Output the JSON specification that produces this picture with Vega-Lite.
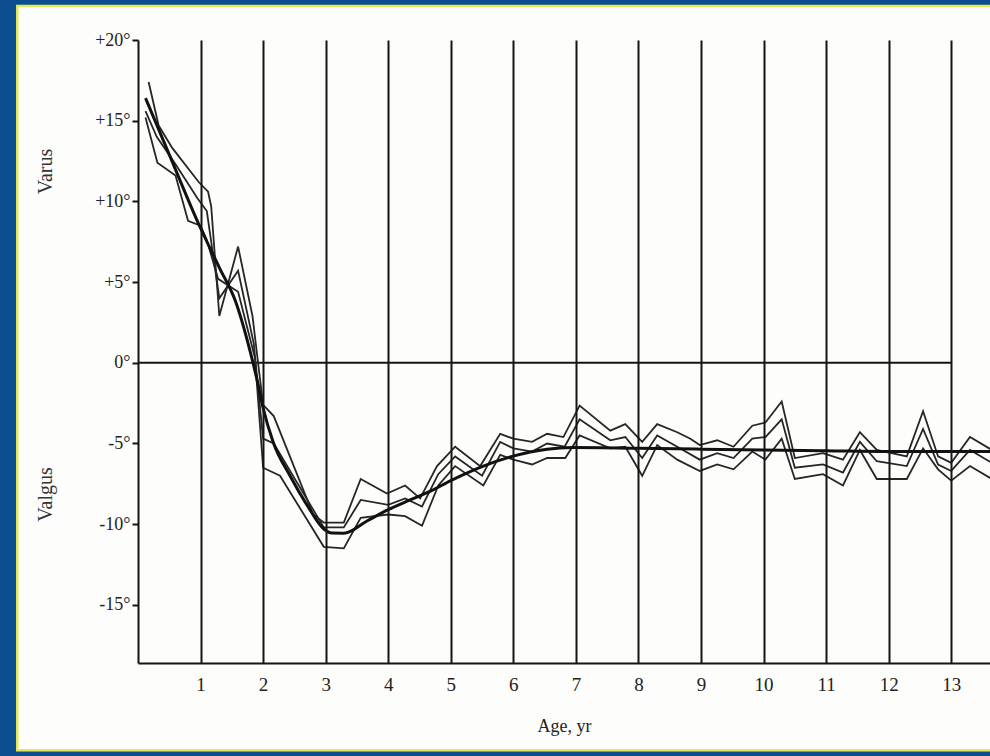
{
  "$schema": "https://vega.github.io/schema/vega-lite/v6.json",
  "width": 852,
  "height": 623,
  "autosize": {"type": "none"},
  "padding": {"left": 138, "top": 40, "right": 0, "bottom": 93},
  "background": "#0c4d8f",
  "config": {"view": {"stroke": null}, "font": "Liberation Serif"},
  "datasets": {
    "bands": [
      {"s": "U", "age": 0.17, "deg": 17.4}, {"s": "U", "age": 0.33, "deg": 14.7}, {"s": "U", "age": 0.55, "deg": 13.3}, {"s": "U", "age": 0.97, "deg": 11.2}, {"s": "U", "age": 1.12, "deg": 10.6}, {"s": "U", "age": 1.17, "deg": 9.7}, {"s": "U", "age": 1.3, "deg": 2.9}, {"s": "U", "age": 1.6, "deg": 7.2}, {"s": "U", "age": 1.83, "deg": 2.9}, {"s": "U", "age": 2.0, "deg": -2.6}, {"s": "U", "age": 2.17, "deg": -3.3}, {"s": "U", "age": 2.8, "deg": -9.4}, {"s": "U", "age": 2.97, "deg": -9.9}, {"s": "U", "age": 3.29, "deg": -9.9}, {"s": "U", "age": 3.56, "deg": -7.2}, {"s": "U", "age": 3.98, "deg": -8.1}, {"s": "U", "age": 4.27, "deg": -7.6}, {"s": "U", "age": 4.51, "deg": -8.4}, {"s": "U", "age": 4.78, "deg": -6.4}, {"s": "U", "age": 5.07, "deg": -5.2}, {"s": "U", "age": 5.47, "deg": -6.4}, {"s": "U", "age": 5.79, "deg": -4.4}, {"s": "U", "age": 6.0, "deg": -4.7}, {"s": "U", "age": 6.3, "deg": -4.9}, {"s": "U", "age": 6.54, "deg": -4.4}, {"s": "U", "age": 6.8, "deg": -4.6}, {"s": "U", "age": 7.06, "deg": -2.65}, {"s": "U", "age": 7.55, "deg": -4.2}, {"s": "U", "age": 7.79, "deg": -3.8}, {"s": "U", "age": 8.06, "deg": -4.9}, {"s": "U", "age": 8.3, "deg": -3.8}, {"s": "U", "age": 8.62, "deg": -4.3}, {"s": "U", "age": 8.83, "deg": -4.7}, {"s": "U", "age": 8.98, "deg": -5.1}, {"s": "U", "age": 9.26, "deg": -4.8}, {"s": "U", "age": 9.52, "deg": -5.2}, {"s": "U", "age": 9.82, "deg": -3.9}, {"s": "U", "age": 10.03, "deg": -3.7}, {"s": "U", "age": 10.29, "deg": -2.4}, {"s": "U", "age": 10.5, "deg": -5.9}, {"s": "U", "age": 10.95, "deg": -5.6}, {"s": "U", "age": 11.27, "deg": -6.0}, {"s": "U", "age": 11.54, "deg": -4.3}, {"s": "U", "age": 11.81, "deg": -5.4}, {"s": "U", "age": 12.29, "deg": -5.8}, {"s": "U", "age": 12.55, "deg": -3.0}, {"s": "U", "age": 12.79, "deg": -5.8}, {"s": "U", "age": 13.0, "deg": -6.2}, {"s": "U", "age": 13.3, "deg": -4.6}, {"s": "U", "age": 13.65, "deg": -5.4},
      {"s": "M", "age": 0.12, "deg": 15.6}, {"s": "M", "age": 0.3, "deg": 14.0}, {"s": "M", "age": 0.6, "deg": 12.3}, {"s": "M", "age": 0.95, "deg": 10.2}, {"s": "M", "age": 1.1, "deg": 9.4}, {"s": "M", "age": 1.3, "deg": 4.0}, {"s": "M", "age": 1.6, "deg": 5.7}, {"s": "M", "age": 1.85, "deg": 1.2}, {"s": "M", "age": 2.0, "deg": -4.7}, {"s": "M", "age": 2.17, "deg": -5.0}, {"s": "M", "age": 2.97, "deg": -10.2}, {"s": "M", "age": 3.29, "deg": -10.2}, {"s": "M", "age": 3.56, "deg": -8.5}, {"s": "M", "age": 4.0, "deg": -8.8}, {"s": "M", "age": 4.27, "deg": -8.4}, {"s": "M", "age": 4.54, "deg": -8.9}, {"s": "M", "age": 4.8, "deg": -6.9}, {"s": "M", "age": 5.07, "deg": -5.8}, {"s": "M", "age": 5.5, "deg": -7.0}, {"s": "M", "age": 5.79, "deg": -4.9}, {"s": "M", "age": 6.0, "deg": -5.3}, {"s": "M", "age": 6.3, "deg": -5.5}, {"s": "M", "age": 6.54, "deg": -5.0}, {"s": "M", "age": 6.82, "deg": -5.2}, {"s": "M", "age": 7.06, "deg": -3.5}, {"s": "M", "age": 7.55, "deg": -4.8}, {"s": "M", "age": 7.79, "deg": -4.6}, {"s": "M", "age": 8.06, "deg": -5.9}, {"s": "M", "age": 8.3, "deg": -4.5}, {"s": "M", "age": 8.62, "deg": -5.2}, {"s": "M", "age": 8.98, "deg": -6.0}, {"s": "M", "age": 9.26, "deg": -5.6}, {"s": "M", "age": 9.52, "deg": -5.9}, {"s": "M", "age": 9.82, "deg": -4.7}, {"s": "M", "age": 10.03, "deg": -4.6}, {"s": "M", "age": 10.29, "deg": -3.5}, {"s": "M", "age": 10.5, "deg": -6.5}, {"s": "M", "age": 10.95, "deg": -6.3}, {"s": "M", "age": 11.27, "deg": -6.8}, {"s": "M", "age": 11.54, "deg": -4.9}, {"s": "M", "age": 11.81, "deg": -6.1}, {"s": "M", "age": 12.29, "deg": -6.4}, {"s": "M", "age": 12.55, "deg": -4.1}, {"s": "M", "age": 12.79, "deg": -6.3}, {"s": "M", "age": 13.0, "deg": -6.7}, {"s": "M", "age": 13.3, "deg": -5.4}, {"s": "M", "age": 13.65, "deg": -6.2},
      {"s": "L", "age": 0.12, "deg": 15.2}, {"s": "L", "age": 0.31, "deg": 12.4}, {"s": "L", "age": 0.6, "deg": 11.6}, {"s": "L", "age": 0.8, "deg": 8.8}, {"s": "L", "age": 1.0, "deg": 8.5}, {"s": "L", "age": 1.1, "deg": 7.6}, {"s": "L", "age": 1.28, "deg": 5.2}, {"s": "L", "age": 1.6, "deg": 4.4}, {"s": "L", "age": 1.87, "deg": 0.3}, {"s": "L", "age": 2.0, "deg": -6.5}, {"s": "L", "age": 2.27, "deg": -7.0}, {"s": "L", "age": 2.97, "deg": -11.4}, {"s": "L", "age": 3.29, "deg": -11.5}, {"s": "L", "age": 3.56, "deg": -9.6}, {"s": "L", "age": 4.0, "deg": -9.4}, {"s": "L", "age": 4.27, "deg": -9.5}, {"s": "L", "age": 4.54, "deg": -10.1}, {"s": "L", "age": 4.8, "deg": -7.6}, {"s": "L", "age": 5.07, "deg": -6.4}, {"s": "L", "age": 5.52, "deg": -7.6}, {"s": "L", "age": 5.79, "deg": -5.7}, {"s": "L", "age": 6.0, "deg": -6.0}, {"s": "L", "age": 6.3, "deg": -6.3}, {"s": "L", "age": 6.54, "deg": -5.9}, {"s": "L", "age": 6.83, "deg": -5.9}, {"s": "L", "age": 7.06, "deg": -4.5}, {"s": "L", "age": 7.55, "deg": -5.3}, {"s": "L", "age": 7.79, "deg": -5.2}, {"s": "L", "age": 8.06, "deg": -7.0}, {"s": "L", "age": 8.3, "deg": -5.1}, {"s": "L", "age": 8.62, "deg": -6.0}, {"s": "L", "age": 8.98, "deg": -6.7}, {"s": "L", "age": 9.26, "deg": -6.3}, {"s": "L", "age": 9.52, "deg": -6.6}, {"s": "L", "age": 9.82, "deg": -5.5}, {"s": "L", "age": 10.03, "deg": -6.0}, {"s": "L", "age": 10.29, "deg": -4.7}, {"s": "L", "age": 10.5, "deg": -7.2}, {"s": "L", "age": 10.95, "deg": -6.9}, {"s": "L", "age": 11.27, "deg": -7.6}, {"s": "L", "age": 11.54, "deg": -5.4}, {"s": "L", "age": 11.81, "deg": -7.2}, {"s": "L", "age": 12.29, "deg": -7.2}, {"s": "L", "age": 12.55, "deg": -5.3}, {"s": "L", "age": 12.79, "deg": -6.6}, {"s": "L", "age": 13.0, "deg": -7.3}, {"s": "L", "age": 13.3, "deg": -6.4}, {"s": "L", "age": 13.65, "deg": -7.2}
    ],
    "mean": [
      {"age": 0.12, "deg": 16.4}, {"age": 0.5, "deg": 12.9}, {"age": 0.97, "deg": 8.6}, {"age": 1.3, "deg": 5.9}, {"age": 1.56, "deg": 3.8}, {"age": 1.8, "deg": 0.6}, {"age": 1.9, "deg": -1.0}, {"age": 2.0, "deg": -2.8}, {"age": 2.16, "deg": -4.9}, {"age": 2.43, "deg": -7.0}, {"age": 2.7, "deg": -8.8}, {"age": 2.97, "deg": -10.3}, {"age": 3.1, "deg": -10.55}, {"age": 3.29, "deg": -10.56}, {"age": 3.66, "deg": -9.8}, {"age": 4.0, "deg": -9.1}, {"age": 4.35, "deg": -8.5}, {"age": 4.7, "deg": -7.9}, {"age": 5.0, "deg": -7.3}, {"age": 5.52, "deg": -6.4}, {"age": 5.98, "deg": -5.8}, {"age": 6.54, "deg": -5.35}, {"age": 6.94, "deg": -5.25}, {"age": 8.0, "deg": -5.3}, {"age": 9.0, "deg": -5.35}, {"age": 10.0, "deg": -5.4}, {"age": 11.0, "deg": -5.45}, {"age": 12.0, "deg": -5.5}, {"age": 13.0, "deg": -5.5}, {"age": 13.65, "deg": -5.5}
    ]
  },
  "resolve": {"axis": {"y": "independent"}},
  "layer": [
    {
      "data": {"values": [{}]},
      "mark": {"type": "rect", "fill": "#fdfdfb", "stroke": "#e4e957", "strokeWidth": 2.5, "clip": false},
      "encoding": {
        "x": {"datum": -1.93, "type": "quantitative", "scale": {"domain": [0, 13.62], "nice": false, "zero": false},
          "axis": {"values": [1,2,3,4,5,6,7,8,9,10,11,12,13], "format": "d", "grid": true, "gridColor": "#151515", "gridWidth": 2, "gridOpacity": 1, "ticks": false, "domainColor": "#151515", "domainWidth": 2, "labelPadding": 12, "labelFontSize": 19, "labelColor": "#222222", "labelFont": "Liberation Serif", "title": "Age, yr", "titleFont": "Liberation Serif", "titleFontSize": 18, "titleFontWeight": "normal", "titleColor": "#222222", "titlePadding": 23, "zindex": 1}},
        "x2": {"datum": 15},
        "y": {"datum": 22.1, "type": "quantitative", "scale": {"domain": [-18.6, 20], "nice": false, "zero": false},
          "axis": {"orient": "left", "title": "Valgus", "labels": false, "ticks": false, "domain": false, "grid": false, "titleX": -93, "titleY": 454, "titleAngle": 270, "titleAlign": "center", "titleBaseline": "middle", "titleFont": "Liberation Serif", "titleFontSize": 20, "titleFontWeight": "normal", "titleColor": "#333333", "zindex": 1}},
        "y2": {"datum": -24}
      }
    },
    {
      "data": {"values": [{}]},
      "mark": {"type": "rule", "color": "#151515", "strokeWidth": 2},
      "encoding": {
        "x": {"datum": 0, "type": "quantitative"},
        "x2": {"datum": 13},
        "y": {"datum": 0, "type": "quantitative", "axis": null}
      }
    },
    {
      "data": {"name": "bands"},
      "mark": {"type": "line", "color": "#262626", "strokeWidth": 1.8, "clip": true},
      "encoding": {
        "x": {"field": "age", "type": "quantitative"},
        "y": {"field": "deg", "type": "quantitative",
          "axis": {"orient": "left", "values": [-15, -10, -5, 0, 5, 10, 15, 20], "labelExpr": "(datum.value > 0 ? '+' : '') + datum.value + '°'", "title": "Varus", "titleX": -93, "titleY": 131, "titleAngle": 270, "titleAlign": "center", "titleBaseline": "middle", "titleFont": "Liberation Serif", "titleFontSize": 20, "titleFontWeight": "normal", "titleColor": "#333333", "grid": false, "domainColor": "#151515", "domainWidth": 2, "tickColor": "#151515", "tickSize": 6, "tickWidth": 2, "labelPadding": 2, "labelFont": "Liberation Serif", "labelFontSize": 18, "labelColor": "#222222", "zindex": 1}},
        "detail": {"field": "s", "type": "nominal"}
      }
    },
    {
      "data": {"name": "mean"},
      "mark": {"type": "line", "color": "#111111", "strokeWidth": 3, "interpolate": "monotone", "clip": true},
      "encoding": {
        "x": {"field": "age", "type": "quantitative"},
        "y": {"field": "deg", "type": "quantitative", "axis": null}
      }
    }
  ]
}
